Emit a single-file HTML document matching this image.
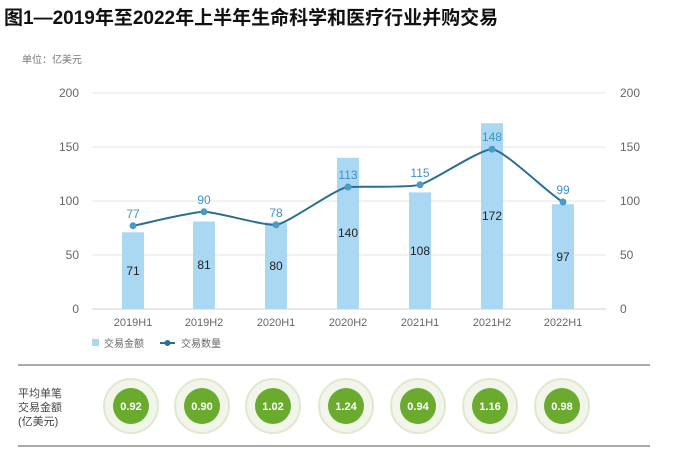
<!DOCTYPE html>
<html><head><meta charset="utf-8"><style>
body{margin:0;background:#fff;width:679px;height:456px;overflow:hidden;font-family:"Liberation Sans","Noto Sans CJK SC",sans-serif;}
</style></head><body>
<svg width="679" height="456" xmlns="http://www.w3.org/2000/svg" font-family="Liberation Sans, Noto Sans CJK SC, sans-serif">
<text x="4" y="24" font-size="19" font-weight="bold" fill="#111">图1—2019年至2022年上半年生命科学和医疗行业并购交易</text>
<text x="22" y="63" font-size="10" fill="#777">单位：亿美元</text>
<g stroke="#e6e6e6" stroke-width="1">
<line x1="92" y1="93" x2="606" y2="93"/><line x1="92" y1="147" x2="606" y2="147"/><line x1="92" y1="201" x2="606" y2="201"/><line x1="92" y1="255" x2="606" y2="255"/>
</g>
<line x1="92" y1="309" x2="606" y2="309" stroke="#d0d0d0"/>
<g font-size="12" fill="#666" text-anchor="end">
<text x="79" y="97">200</text><text x="79" y="151">150</text><text x="79" y="205">100</text><text x="79" y="259">50</text><text x="79" y="313">0</text>
</g>
<g font-size="12" fill="#666" text-anchor="start">
<text x="620" y="97">200</text><text x="620" y="151">150</text><text x="620" y="205">100</text><text x="620" y="259">50</text><text x="620" y="313">0</text>
</g>
<g fill="#aad8f2">
<rect x="122" y="232.3" width="22" height="76.7"/>
<rect x="193" y="221.5" width="22" height="87.5"/>
<rect x="265" y="222.6" width="22" height="86.4"/>
<rect x="337" y="157.8" width="22" height="151.2"/>
<rect x="409" y="192.4" width="22" height="116.6"/>
<rect x="481" y="123.2" width="22" height="185.8"/>
<rect x="552" y="204.2" width="22" height="104.8"/>
</g>
<g font-size="12" fill="#222" text-anchor="middle">
<text x="133" y="275">71</text><text x="204" y="269">81</text><text x="276" y="270">80</text><text x="348" y="237">140</text><text x="420" y="255">108</text><text x="492" y="220">172</text><text x="563" y="261">97</text>
</g>
<path d="M133,225.8 C145,223.5 192,211.8 204,211.8 C216,211.8 264,226 276,224.8 C288,223.6 336,188 348,187 C360,186 408,188 420,184.8 C432,181.6 480,149 492,149.2 C504,149.4 551,196 563,202" fill="none" stroke="#2a6f93" stroke-width="2"/>
<g fill="#4a9cc8">
<circle cx="133" cy="225.8" r="3.5"/><circle cx="204" cy="211.8" r="3.5"/><circle cx="276" cy="224.8" r="3.5"/><circle cx="348" cy="187" r="3.5"/><circle cx="420" cy="184.8" r="3.5"/><circle cx="492" cy="149.2" r="3.5"/><circle cx="563" cy="202" r="3.5"/>
</g>
<g font-size="12" fill="#3d93c4" text-anchor="middle">
<text x="133" y="218">77</text><text x="204" y="204">90</text><text x="276" y="217">78</text><text x="348" y="179">113</text><text x="420" y="177">115</text><text x="492" y="141">148</text><text x="563" y="194">99</text>
</g>
<g font-size="11" fill="#666" text-anchor="middle">
<text x="133" y="326">2019H1</text><text x="204" y="326">2019H2</text><text x="276" y="326">2020H1</text><text x="348" y="326">2020H2</text><text x="420" y="326">2021H1</text><text x="492" y="326">2021H2</text><text x="563" y="326">2022H1</text>
</g>
<rect x="92" y="339" width="7" height="7" fill="#aad8f2"/>
<text x="104" y="347" font-size="10" fill="#666">交易金额</text>
<line x1="160" y1="343" x2="175" y2="343" stroke="#2a6f93" stroke-width="2"/>
<circle cx="167.5" cy="343" r="3" fill="#2a6f93"/>
<text x="181" y="347" font-size="10" fill="#666">交易数量</text>
<line x1="18" y1="365" x2="650" y2="365" stroke="#555" stroke-width="1"/>
<line x1="18" y1="446" x2="650" y2="446" stroke="#555" stroke-width="1"/>
<g font-size="11" fill="#444">
<text x="18" y="397">平均单笔</text><text x="18" y="411">交易金额</text><text x="18" y="425">(亿美元)</text>
</g>
<g>
<circle cx="131" cy="406" r="27" fill="#f1f5ea" stroke="#dfe8d2" stroke-width="2"/><circle cx="131" cy="406" r="18" fill="#6aab2e"/>
<circle cx="202" cy="406" r="27" fill="#f1f5ea" stroke="#dfe8d2" stroke-width="2"/><circle cx="202" cy="406" r="18" fill="#6aab2e"/>
<circle cx="273" cy="406" r="27" fill="#f1f5ea" stroke="#dfe8d2" stroke-width="2"/><circle cx="273" cy="406" r="18" fill="#6aab2e"/>
<circle cx="346" cy="406" r="27" fill="#f1f5ea" stroke="#dfe8d2" stroke-width="2"/><circle cx="346" cy="406" r="18" fill="#6aab2e"/>
<circle cx="418" cy="406" r="27" fill="#f1f5ea" stroke="#dfe8d2" stroke-width="2"/><circle cx="418" cy="406" r="18" fill="#6aab2e"/>
<circle cx="490" cy="406" r="27" fill="#f1f5ea" stroke="#dfe8d2" stroke-width="2"/><circle cx="490" cy="406" r="18" fill="#6aab2e"/>
<circle cx="562" cy="406" r="27" fill="#f1f5ea" stroke="#dfe8d2" stroke-width="2"/><circle cx="562" cy="406" r="18" fill="#6aab2e"/>
</g>
<g font-size="11" font-weight="bold" fill="#fff" text-anchor="middle">
<text x="131" y="410">0.92</text><text x="202" y="410">0.90</text><text x="273" y="410">1.02</text><text x="346" y="410">1.24</text><text x="418" y="410">0.94</text><text x="490" y="410">1.16</text><text x="562" y="410">0.98</text>
</g>
</svg>
</body></html>
